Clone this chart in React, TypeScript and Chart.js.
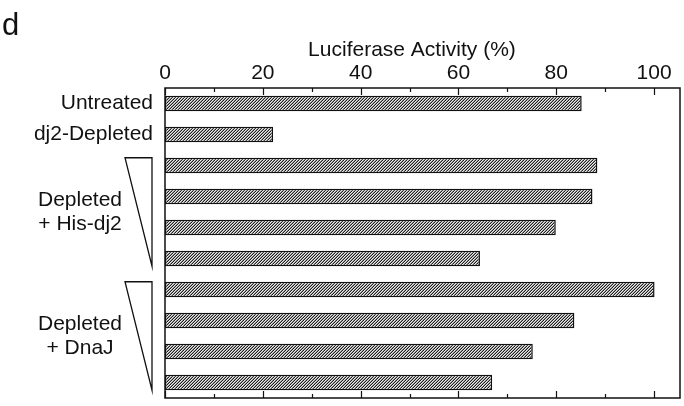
import React, { useEffect, useRef } from "react";
import { Chart, registerables } from "chart.js";

Chart.register(...registerables);

// ---- data ----
const categories = [
  "Untreated",
  "dj2-Depleted",
  "His-dj2 (1)",
  "His-dj2 (2)",
  "His-dj2 (3)",
  "His-dj2 (4)",
  "DnaJ (1)",
  "DnaJ (2)",
  "DnaJ (3)",
  "DnaJ (4)",
];
const axisLabels = ["Untreated", "dj2-Depleted", "", "", "", "", "", "", "", ""];
const activity = [85.2, 22.1, 88.4, 87.4, 79.9, 64.4, 100.1, 83.7, 75.2, 66.9];
const xMajorTicks = [0, 20, 40, 60, 80, 100];
const xMinorTicks = [10, 30, 50, 70, 90];
const groupLabels = [
  ["Depleted", "+ His-dj2"],
  ["Depleted", "+ DnaJ"],
];
const groupFirst = [2, 6];
const groupLast = [5, 9];
const axisTitle = "Luciferase Activity (%)";
const panelLetter = "d";

const FONT = "'Liberation Sans', Arial, Helvetica, sans-serif";
const INK = "#111111";

function makeHatch(): CanvasPattern | string {
  const c = document.createElement("canvas");
  c.width = 3;
  c.height = 3;
  const ctx = c.getContext("2d");
  if (!ctx) return "#999";
  const img = ctx.createImageData(3, 3);
  for (let y = 0; y < 3; y++) {
    for (let x = 0; x < 3; x++) {
      const i = (y * 3 + x) * 4;
      const k = (x + y) % 3;
      const v = k === 2 ? 30 : k === 1 ? 150 : 235;
      img.data[i] = v;
      img.data[i + 1] = v;
      img.data[i + 2] = v;
      img.data[i + 3] = 255;
    }
  }
  ctx.putImageData(img, 0, 0);
  const p = ctx.createPattern(c, "repeat");
  return p || "#999";
}

const decorPlugin = {
  id: "decor",
  afterDraw(chart: any) {
    const { ctx, chartArea } = chart;
    const xs = chart.scales.x;
    const ys = chart.scales.y;
    const { left, right, top, bottom } = chartArea;
    ctx.save();
    // frame
    ctx.strokeStyle = INK;
    ctx.lineWidth = 1.5;
    ctx.strokeRect(left, top, right - left, bottom - top);
    // inward ticks top and bottom
    const drawTick = (v: number, len: number) => {
      const px = Math.round(xs.getPixelForValue(v)) + 0.5;
      ctx.beginPath();
      ctx.moveTo(px, top);
      ctx.lineTo(px, top + len);
      ctx.moveTo(px, bottom);
      ctx.lineTo(px, bottom - len);
      ctx.stroke();
    };
    ctx.lineWidth = 1.2;
    xMajorTicks.forEach((v) => drawTick(v, 7));
    xMinorTicks.forEach((v) => drawTick(v, 4));

    // axis title
    ctx.fillStyle = INK;
    ctx.font = `21px ${FONT}`;
    ctx.textAlign = "center";
    ctx.textBaseline = "middle";
    ctx.fillText(axisTitle, xs.getPixelForValue(50.5), 50);

    // panel letter
    ctx.font = `31px ${FONT}`;
    ctx.textAlign = "left";
    ctx.textBaseline = "alphabetic";
    ctx.fillText(panelLetter, 2, 35);

    // groups: wedges + labels
    const half = (ys.getPixelForValue(1) - ys.getPixelForValue(0)) * 0.25;
    ctx.lineWidth = 1.3;
    groupLabels.forEach((lines, g) => {
      const y0 = ys.getPixelForValue(groupFirst[g]) - half;
      const y1 = ys.getPixelForValue(groupLast[g]) + half;
      ctx.beginPath();
      ctx.moveTo(125, y0);
      ctx.lineTo(152, y0);
      ctx.lineTo(152, y1);
      ctx.closePath();
      ctx.stroke();
      const mid = (ys.getPixelForValue(groupFirst[g]) + ys.getPixelForValue(groupLast[g])) / 2;
      ctx.font = `21px ${FONT}`;
      ctx.textAlign = "center";
      ctx.textBaseline = "middle";
      ctx.fillText(lines[0], 80, mid - 12);
      ctx.fillText(lines[1], 80, mid + 12);
    });
    ctx.restore();
  },
};

export default function App() {
  const ref = useRef<HTMLCanvasElement | null>(null);
  useEffect(() => {
    if (!ref.current) return;
    const chart = new Chart(ref.current, {
      type: "bar",
      data: {
        labels: categories,
        datasets: [
          {
            data: activity,
            backgroundColor: makeHatch() as any,
            borderColor: INK,
            borderWidth: 1.5,
            borderSkipped: false,
            barPercentage: 0.5,
            categoryPercentage: 1,
          },
        ],
      },
      options: {
        indexAxis: "y",
        responsive: false,
        animation: false,
        layout: { padding: { left: 0, right: 4, top: 0, bottom: 8 } },
        plugins: { legend: { display: false }, tooltip: { enabled: false } },
        scales: {
          x: {
            type: "linear",
            position: "top",
            min: 0,
            max: 105.3,
            afterBuildTicks: (s: any) => {
              s.ticks = [...xMajorTicks, ...xMinorTicks].sort((a, b) => a - b).map((v) => ({ value: v }));
            },
            ticks: {
              autoSkip: false,
              maxRotation: 0,
              padding: 2,
              color: INK,
              font: { family: FONT, size: 21 },
              callback: (v: any) => (xMajorTicks.includes(Number(v)) ? String(v) : ""),
            },
            grid: { display: false, drawTicks: false },
            border: { display: false },
            afterFit: (s: any) => {
              s.height = 88;
              s.paddingLeft = 0;
              s.paddingRight = 0;
            },
          },
          y: {
            type: "category",
            ticks: {
              autoSkip: false,
              padding: 12,
              color: INK,
              font: { family: FONT, size: 21 },
              callback: (_v: any, i: number) => axisLabels[i],
            },
            grid: { display: false, drawTicks: false },
            border: { display: false },
            afterFit: (s: any) => {
              s.width = 165;
              s.paddingTop = 0;
              s.paddingBottom = 0;
            },
          },
        },
      },
      plugins: [decorPlugin],
    } as any);
    return () => chart.destroy();
  }, []);
  return (
    <div style={{ position: "fixed", left: 0, top: 0, width: 684, height: 406, background: "#fff" }}>
      <canvas ref={ref} width={684} height={406} style={{ width: 684, height: 406, display: "block" }} />
    </div>
  );
}
